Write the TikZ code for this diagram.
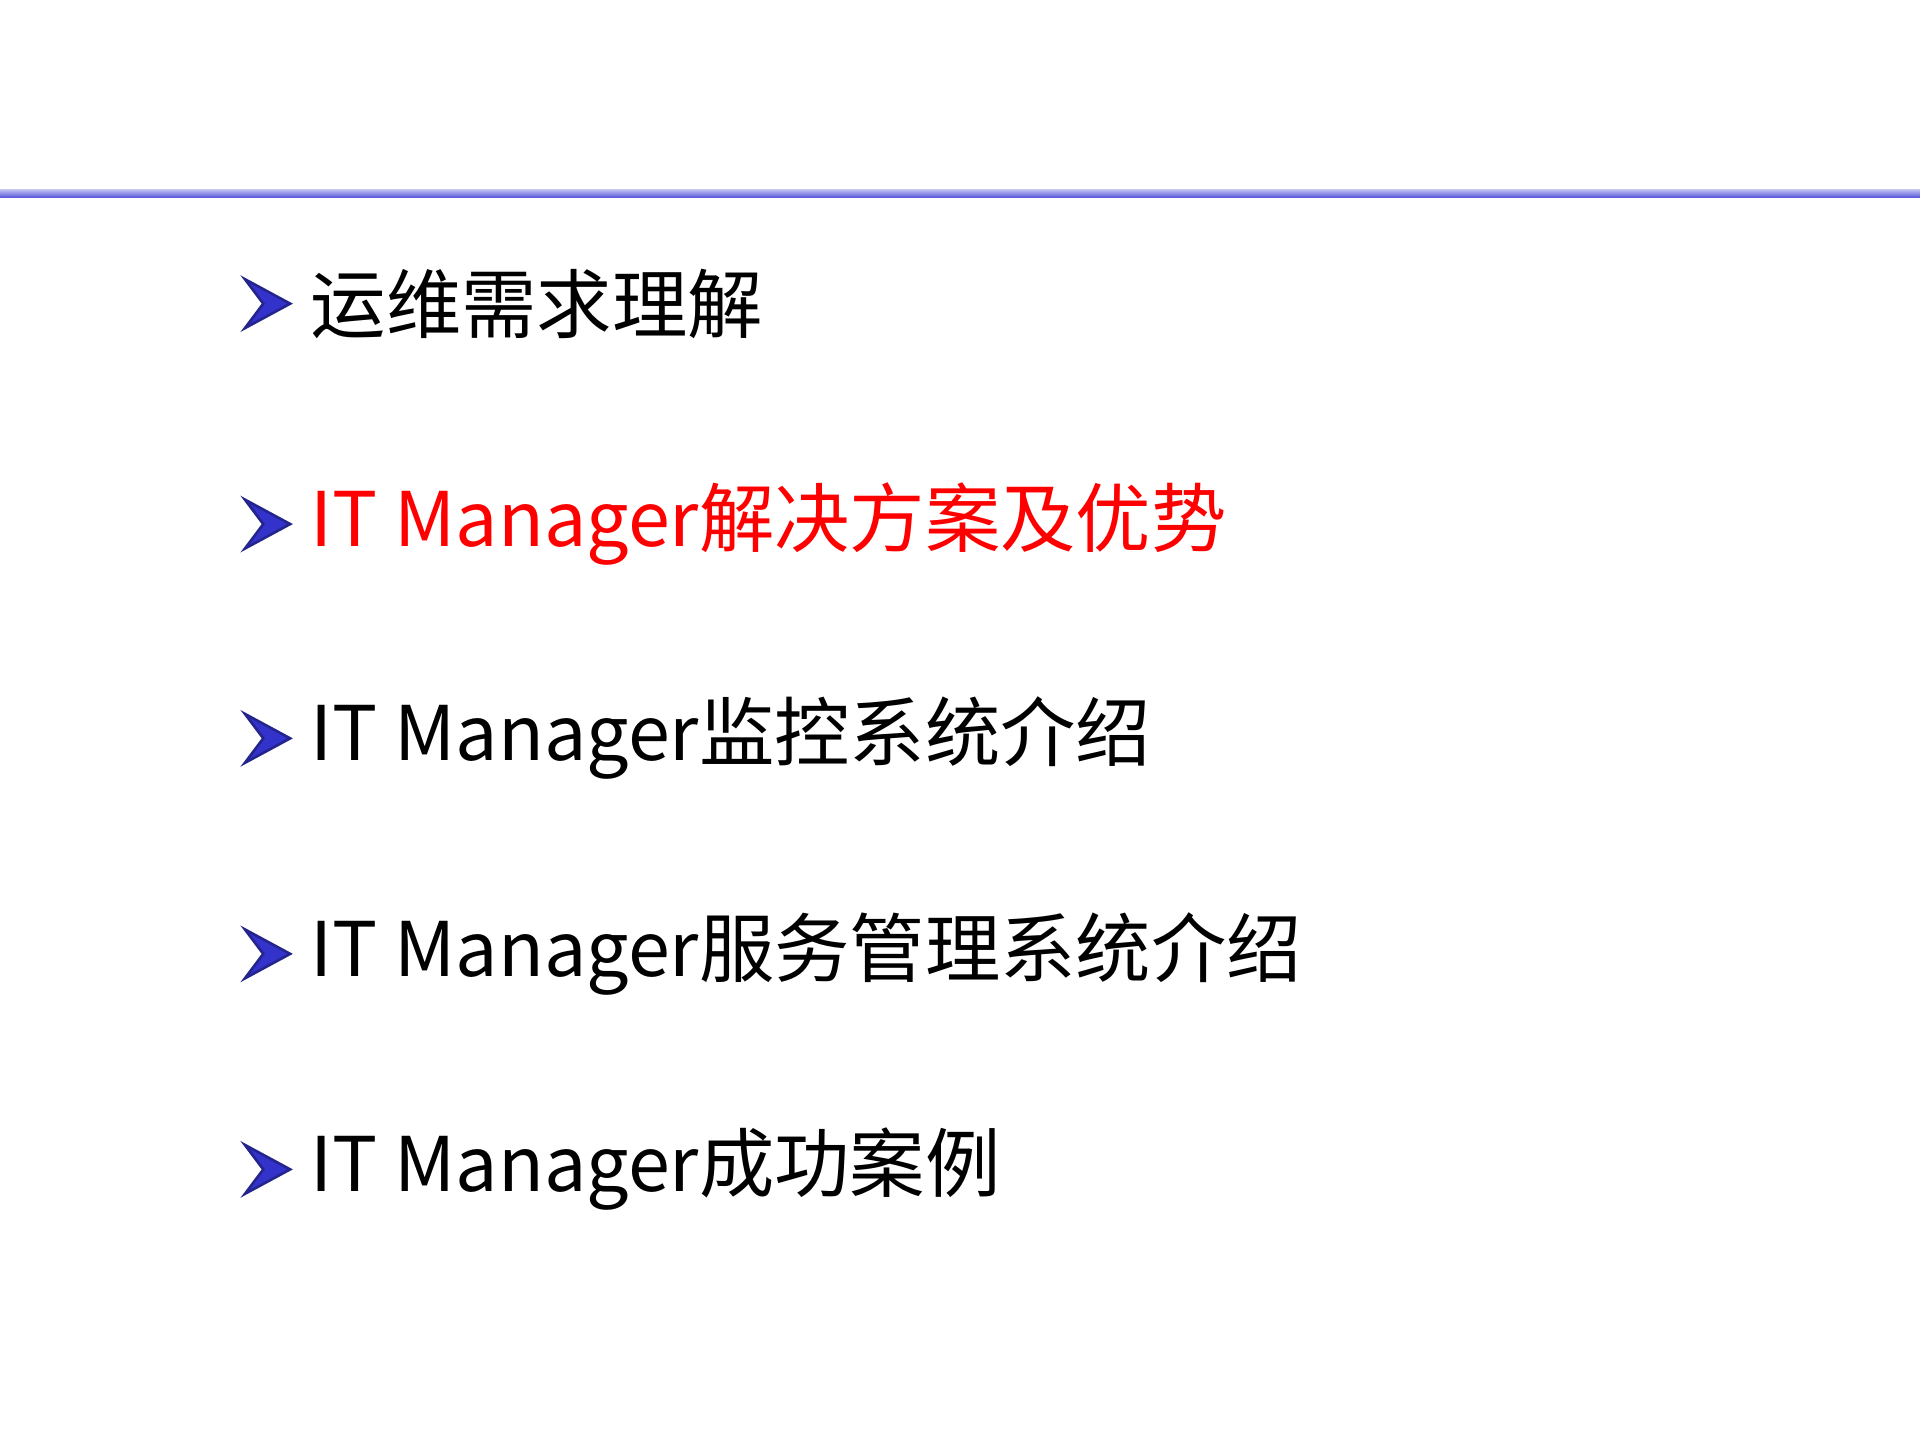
\documentclass[tikz,border=0pt]{standalone}
\usepackage{fontspec}
\setmainfont{Noto Sans CJK SC}
\definecolor{bul}{RGB}{51,51,204}
\definecolor{rline}{RGB}{90,90,220}
\tikzset{item/.style={anchor=west,inner sep=0pt,font=\fontsize{17.5}{20}\selectfont},
 bullet/.style={fill=bul,draw=bul!70!black,line width=0.6pt}}
\begin{document}
\begin{tikzpicture}[x=0.01cm,y=-0.01cm]
\useasboundingbox (0,0) rectangle (1568,1176);
\fill[white] (0,0) rectangle (1568,1176);
\shade[top color=rline!40,bottom color=rline] (0,155) rectangle (1568,161);
\foreach \y/\t/\c [count=\i] in {248/运维需求理解/black,428/IT Manager解决方案及优势/red,603/IT Manager监控系统介绍/black,779/IT Manager服务管理系统介绍/black,955/IT Manager成功案例/black}{
  \draw[bullet] (200,\y-20) -- (237,\y) -- (200,\y+20) -- (215,\y) -- cycle;
  \node[item,text=\c] (t\i) at (253,\y) {\t};
}
\end{tikzpicture}
\end{document}
